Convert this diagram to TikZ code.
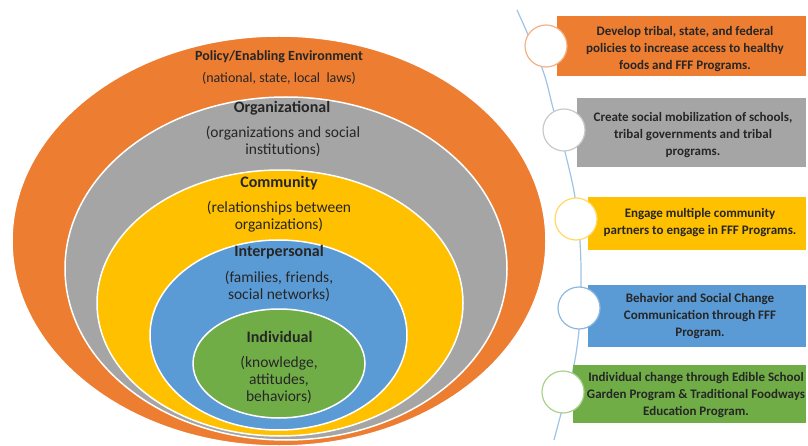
\documentclass[tikz,border=0pt]{standalone}
\usepackage{fontspec}
\setmainfont{Carlito}
\usetikzlibrary{shapes.geometric}
\definecolor{cOrange}{HTML}{ED7D31}
\definecolor{cGray}{HTML}{A5A5A5}
\definecolor{cYellow}{HTML}{FFC000}
\definecolor{cBlue}{HTML}{5B9BD5}
\definecolor{cGreen}{HTML}{70AD47}
\definecolor{cLine}{HTML}{9DC3E6}
\definecolor{rOrange}{HTML}{F4B183}
\definecolor{rGray}{HTML}{C9C9C9}
\definecolor{rYellow}{HTML}{FFD966}
\definecolor{rBlue}{HTML}{8FB8E0}
\definecolor{rGreen}{HTML}{A9D18E}
\definecolor{txt}{HTML}{262626}
\begin{document}
\begin{tikzpicture}[x=1pt,y=-1pt,
  ring/.style={ellipse, draw=white, line width=1.5pt, inner sep=0pt},
  ttl/.style={font=\bfseries\fontsize{16}{18}\selectfont, text=txt, inner sep=0pt},
  body/.style={font=\fontsize{15.5}{17}\selectfont, text=txt, align=center, inner sep=0pt},
  boxr/.style={draw=none, inner sep=0pt, anchor=north west},
  btxt/.style={font=\bfseries\fontsize{13}{17}\selectfont, text=txt, align=center, inner sep=0pt},
  dot/.style={circle, fill=white, line width=1.2pt, minimum size=42pt, inner sep=0pt}]
\useasboundingbox (0,0) rectangle (808,446);
\begin{scope}
\clip (0,0) rectangle (808,446);
% nested ellipses
\node[ring, fill=cOrange, minimum width=534pt, minimum height=410pt] (pol) at (279,241) {};
\node[ring, fill=cGray,   minimum width=442pt, minimum height=343pt] (org) at (286,268.5) {};
\node[ring, fill=cYellow, minimum width=366pt, minimum height=266pt] (com) at (280,303) {};
\node[ring, fill=cBlue,   minimum width=257pt, minimum height=190pt] (ipr) at (278.5,335) {};
\node[ring, fill=cGreen,  minimum width=172pt, minimum height=109pt] (ind) at (279,363.5) {};
\end{scope}
% ellipse texts
\node[ttl, font=\bfseries\fontsize{14}{16}\selectfont] (polT) at (279,57) {Policy/Enabling Environment};
\node[body, font=\fontsize{14}{16}\selectfont] (polB) at (279,78) {(national, state, local\ \ laws)};
\node[ttl] (orgT) at (282,108) {Organizational};
\node[body] (orgB) at (283,141.5) {(organizations and social\\institutions)};
\node[ttl] (comT) at (279,183) {Community};
\node[body] (comB) at (279,216.5) {(relationships between\\organizations)};
\node[ttl] (iprT) at (279,252) {Interpersonal};
\node[body] (iprB) at (279,286) {(families, friends,\\social networks)};
\node[ttl] (indT) at (279.5,337) {Individual};
\node[body] (indB) at (279,380) {(knowledge,\\attitudes,\\behaviors)};
% timeline line
\coordinate (l0) at (517,10);
\coordinate (l1) at (542,68);
\coordinate (l2) at (553,108);
\coordinate (l3) at (565,152);
\coordinate (l4) at (575,197);
\coordinate (l5) at (580,242);
\coordinate (l6) at (581,287);
\coordinate (l7) at (579,330);
\coordinate (l8) at (573,370);
\coordinate (l9) at (562,410);
\coordinate (l10) at (554,440);
\draw[cLine, line width=1.2pt] plot[smooth, tension=0.6] coordinates {(l0) (l1) (l2) (l3) (l4) (l5) (l6) (l7) (l8) (l9) (l10)};
% boxes
\node[boxr, fill=cOrange, minimum width=249pt, minimum height=60pt] (b1) at (557,16) {};
\node[boxr, fill=cGray,   minimum width=229pt, minimum height=69pt] (b2) at (577,98) {};
\node[boxr, fill=cYellow, minimum width=218pt, minimum height=53pt] (b3) at (588,197) {};
\node[boxr, fill=cBlue,   minimum width=218pt, minimum height=62pt] (b4) at (588,285) {};
\node[boxr, fill=cGreen,  minimum width=233pt, minimum height=58pt] (b5) at (573,365) {};
% circles
\node[dot, draw=rOrange] (c1) at (546,46) {};
\node[dot, draw=rGray]   (c2) at (564,130) {};
\node[dot, draw=rYellow] (c3) at (576,219) {};
\node[dot, draw=rBlue]   (c4) at (579,308) {};
\node[dot, draw=rGreen]  (c5) at (563,392) {};
% box texts
\node[btxt] (t1) at (685,49) {Develop tribal, state, and federal\\policies to increase access to healthy\\foods and FFF Programs.};
\node[btxt] (t2) at (693,135) {Create social mobilization of schools,\\tribal governments and tribal\\programs.};
\node[btxt] (t3) at (700,223) {Engage multiple community\\partners to engage in FFF Programs.};
\node[btxt] (t4) at (700,316.5) {Behavior and Social Change\\Communication through FFF\\Program.};
\node[btxt] (t5) at (696,395) {Individual change through Edible School\\Garden Program \& Traditional Foodways\\Education Program.};
\end{tikzpicture}
\end{document}
